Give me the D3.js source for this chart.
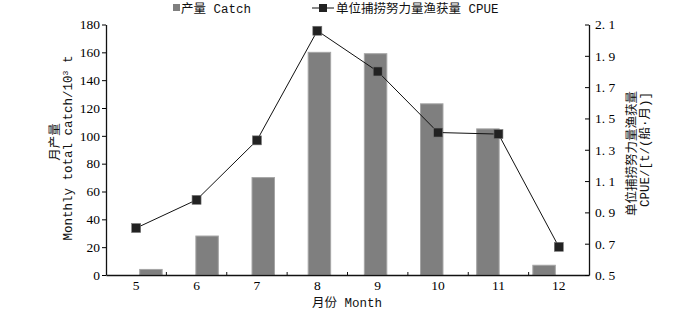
<!DOCTYPE html>
<html>
<head>
<meta charset="utf-8">
<script src="https://cdn.jsdelivr.net/npm/d3@7"></script>
<style>
  body { margin: 0; background: #fff; }
  svg { display: block; }
  .tick text { font-family: "Liberation Serif", serif; font-size: 13.5px; fill: #000; }
  .lbl { font-family: "Liberation Mono", "Noto Sans CJK SC", monospace; font-size: 12.5px; fill: #111; }
</style>
</head>
<body>
<div id="chart"></div>
<script>
// months on x axis
const months = ['5', '6', '7', '8', '9', '10', '11', '12'];
// monthly catch (10^3 t)
const catchVals = [4, 28, 70, 160, 159, 123, 105, 7];
// CPUE t/(vessel*month)
const cpueVals = [0.80, 0.98, 1.36, 2.06, 1.80, 1.41, 1.40, 0.68];
const leftTicks = [0, 20, 40, 60, 80, 100, 120, 140, 160, 180];
const rightTicks = [0.5, 0.7, 0.9, 1.1, 1.3, 1.5, 1.7, 1.9, 2.1];

const width = 700, height = 310;
const margin = { top: 24.5, right: 111, bottom: 35, left: 106 };
const w = width - margin.left - margin.right;
const h = height - margin.top - margin.bottom;

const svg = d3.select("#chart").append("svg")
  .attr("width", width)
  .attr("height", height);

const g = svg.append("g")
  .attr("transform", `translate(${margin.left},${margin.top})`);

const x = d3.scaleBand().domain(months).range([0, w]).padding(0.6);
const xc = d3.scaleBand().domain(months).range([0, w]);
const y = d3.scaleLinear().domain([0, 180]).range([h, 0]);
const y2 = d3.scaleLinear().domain([0.5, 2.1]).range([h, 0]);

// bars
g.append("g")
  .selectAll("rect")
  .data(catchVals)
  .join("rect")
  .attr("x", (d, i) => x(months[i]))
  .attr("y", d => y(d))
  .attr("width", x.bandwidth())
  .attr("height", d => h - y(d))
  .attr("fill", "#7f7f7f")
  .attr("stroke", "#a5a5a5")
  .attr("stroke-width", 1);

// CPUE line
const line = d3.line()
  .x((d, i) => xc(months[i]) + xc.bandwidth() / 2)
  .y(d => y2(d));

g.append("path")
  .datum(cpueVals)
  .attr("d", line)
  .attr("fill", "none")
  .attr("stroke", "#111")
  .attr("stroke-width", 1);

const ms = 9;
g.append("g")
  .selectAll("rect")
  .data(cpueVals)
  .join("rect")
  .attr("x", (d, i) => xc(months[i]) + xc.bandwidth() / 2 - ms / 2)
  .attr("y", d => y2(d) - ms / 2)
  .attr("width", ms)
  .attr("height", ms)
  .attr("fill", "#222")
  .attr("stroke", "#777")
  .attr("stroke-width", 0.6);

// axes
const xAxis = g.append("g")
  .attr("transform", `translate(0,${h})`)
  .call(d3.axisBottom(xc).tickSize(0).tickPadding(5));
xAxis.select(".domain").attr("stroke", "#111").attr("stroke-width", 1.3);
// small inner ticks between months
xAxis.selectAll(".sep")
  .data(months.slice(1))
  .join("line")
  .attr("class", "sep")
  .attr("x1", d => xc(d)).attr("x2", d => xc(d))
  .attr("y1", 0).attr("y2", -3)
  .attr("stroke", "#111");

const yAxis = g.append("g")
  .call(d3.axisLeft(y).tickValues(leftTicks).tickSize(4).tickSizeOuter(0).tickPadding(2));
yAxis.select(".domain").attr("stroke", "#111").attr("stroke-width", 1.3);

const yAxis2 = g.append("g")
  .attr("transform", `translate(${w},0)`)
  .call(d3.axisRight(y2).tickValues(rightTicks).tickSizeInner(-4).tickSizeOuter(0).tickPadding(6)
    .tickFormat(d => d.toFixed(1).replace(".", ". ")));
yAxis2.select(".domain").attr("stroke", "#111").attr("stroke-width", 1.3);

// axis titles
svg.append("text").attr("class", "lbl")
  .attr("x", 347).attr("y", 307)
  .attr("text-anchor", "middle")
  .text("月份 Month");

svg.append("text").attr("class", "lbl")
  .attr("transform", "translate(59,142) rotate(-90)")
  .attr("text-anchor", "middle")
  .text("月产量");

svg.append("text").attr("class", "lbl")
  .attr("transform", "translate(72,148) rotate(-90)")
  .attr("text-anchor", "middle")
  .html("Monthly total catch/10<tspan dy='-4' font-size='8px'>3</tspan><tspan dy='4'> t</tspan>");

svg.append("text").attr("class", "lbl")
  .attr("transform", "translate(636,91) rotate(-90)")
  .attr("text-anchor", "end")
  .text("单位捕捞努力量渔获量");

svg.append("text").attr("class", "lbl")
  .attr("transform", "translate(649,92) rotate(-90)")
  .attr("text-anchor", "end")
  .text("CPUE/[t/(船·月)]");

// legend
const legend = svg.append("g");
legend.append("rect")
  .attr("x", 173).attr("y", 4).attr("width", 7).attr("height", 7)
  .attr("fill", "#7f7f7f");
legend.append("text").attr("class", "lbl")
  .attr("x", 181).attr("y", 12.5)
  .text("产量 Catch");
legend.append("line")
  .attr("x1", 312).attr("x2", 334).attr("y1", 8).attr("y2", 8)
  .attr("stroke", "#111");
legend.append("rect")
  .attr("x", 319).attr("y", 4).attr("width", 8).attr("height", 8)
  .attr("fill", "#222");
legend.append("text").attr("class", "lbl")
  .attr("x", 336).attr("y", 12.5)
  .text("单位捕捞努力量渔获量 CPUE");
</script>
</body>
</html>
